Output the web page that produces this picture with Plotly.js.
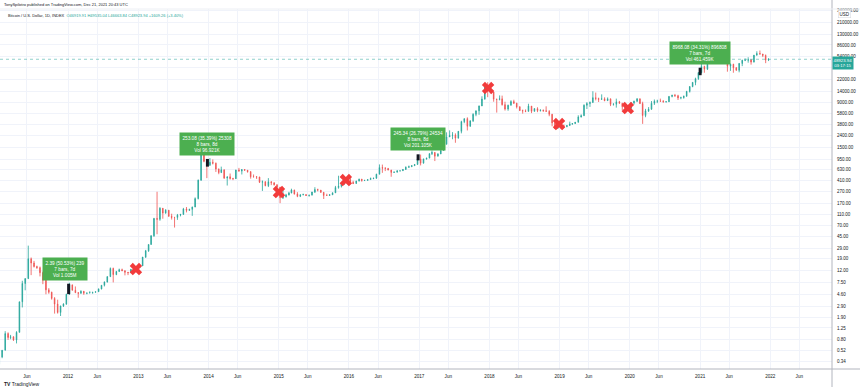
<!DOCTYPE html>
<html>
<head>
<meta charset="utf-8">
<script src="https://cdn.plot.ly/plotly-3.0.1.min.js"></script>
<style>html,body{margin:0;padding:0;background:#fff;}#chart{width:860px;height:391px;}</style>
</head>
<body>
<div id="chart"></div>
<script>
// ---- Data: half-month OHLC (BTC/USD INDEX), two candles per month ----
const years = [2011,2012,2013,2014,2015,2016,2017,2018,2019,2020,2021];
const halfDays = ['08','23'];
const openP = [
 .30,.40,.52,1.00,.86,.88,.78,1.05,3.5,7.2,8.7,19,16.1,14,13.4,11,8.2,5.6,5.1,4.0,3.2,2.3,2.97,3.2,
 4.7,6.8,5.5,5.0,4.9,5.3,4.9,4.95,5.0,5.1,5.2,5.8,6.7,7.6,9.4,13.0,10.2,11.5,12.4,11.9,11.2,11.0,12.6,13.4,
 13.5,14.4,20.4,26,33.4,47,93,90,139,115,129,101,97,97,106,109,135,128,133,146,203,420,1129,880,
 754,850,818,650,565,630,457,480,447,445,627,600,638,620,585,480,478,475,387,395,338,395,378,350,
 320,210,218,235,254,285,244,222,236,238,230,233,263,290,284,260,230,230,236,255,314,330,378,455,
 430,385,369,405,437,415,416,430,448,455,530,690,673,665,624,570,575,607,609,640,700,712,742,778,
 963,820,970,1000,1190,1250,1080,1180,1350,1720,2300,2450,2480,2200,2870,4200,4730,3500,4340,5600,6450,7800,10200,17700,
 13900,13500,10200,10100,10300,8200,6900,8000,9250,8700,7500,6500,6400,6300,7750,6300,7000,6500,6620,6450,6300,5600,4000,3250,
 3700,3600,3450,3600,3820,3900,4100,5050,5300,8000,8550,8900,10800,10400,10100,10300,9600,10300,8300,8350,9150,8650,7550,7100,
 7200,8800,9350,10350,8550,5350,6420,6850,8650,9400,9450,9400,9150,9200,11350,11850,11650,10700,10780,11450,13800,16700,19700,22800,
 28950,36800,33100,48700,45200,56000,58800,63000,57700,46400,37300,40100,35000,31800,41500,47000,47100,48100,43800,57400,61300,60100,57000,47600];
const highP = [
 .42,.52,1.10,1.05,.95,.90,1.10,3.5,8.0,8.9,31.9,20,17.5,14.5,14,11.5,8.5,6.0,5.2,4.2,3.8,3.0,3.3,4.8,
 7.4,6.9,6.4,5.1,5.5,5.3,5.0,5.3,5.1,5.2,5.9,6.7,7.8,9.6,13.5,13.4,11.8,12.9,12.9,12.0,11.3,12.6,13.6,13.8,
 14.7,20.4,27,33.4,48,95,266,145,140,134,129,112,98,111,111,141,146,136,148,213,430,1242,1165,890,
 1000,950,840,665,715,640,480,545,460,630,680,640,650,625,600,525,490,480,415,400,455,400,385,355,
 320,300,245,265,300,288,262,240,247,240,235,265,318,300,285,262,246,242,258,335,500,380,470,465,
 465,410,410,445,440,425,430,465,460,540,780,775,700,680,630,590,615,612,645,720,745,755,785,975,
 1150,975,1010,1210,1350,1255,1210,1350,1800,2760,2980,2780,2650,2900,4350,4750,4980,4400,5850,6470,7900,11400,17900,19800,
 17200,13500,10300,11800,11700,9200,8200,9750,9950,8800,7750,6750,6800,8500,7750,7150,7400,6800,6750,7680,6600,5700,4300,4200,
 4100,3750,3650,4200,3950,4150,5400,5600,8300,9050,9300,13900,13200,10800,12300,10950,10900,10400,8650,10400,9500,8800,7750,7500,
 8900,9600,10500,10350,9200,6950,7450,9450,10050,9950,10400,9800,9450,11450,12100,12500,12100,11200,11700,14100,16900,19850,23700,29300,
 41950,38000,49700,58350,61800,60000,64850,63500,59500,46600,41300,41000,35900,42300,48000,50500,52900,48500,58000,67000,69000,60500,59000,51000];
const lowP = [
 .29,.38,.52,.78,.80,.75,.68,1.05,2.8,5.5,8.7,10,13.5,12.8,9.5,7.0,4.7,4.8,3.8,2.2,2.2,2.0,2.85,3.1,
 4.6,5.5,5.0,4.1,4.8,4.6,4.7,4.9,4.8,5.0,5.2,5.7,6.4,7.5,9.4,7.5,10.0,11.4,11.7,9.9,10.0,11.0,12.6,13.1,
 13.2,14.3,19.6,25,33.2,45,50,85,92,112,100,89,65,88,101,108,118,125,103,145,197,410,850,455,
 740,780,580,530,560,440,340,430,420,440,590,525,610,565,445,470,440,375,275,330,320,345,340,310,
 170,200,212,230,250,238,215,216,232,225,219,230,253,270,255,200,226,227,236,255,300,315,350,415,
 355,360,365,400,395,405,412,428,436,440,530,560,600,620,480,560,570,590,603,630,680,710,740,775,
 750,810,940,995,1130,890,1070,1170,1350,1720,2300,2100,1830,2150,2650,3950,2970,3450,4150,5200,5500,7750,10000,11000,
 12800,9200,6000,9700,7900,6500,6450,7950,8400,7050,6400,5750,6100,6250,5880,6250,6100,6250,6200,6250,5200,3500,3150,3200,
 3500,3350,3380,3580,3700,3850,4080,4950,5300,6900,7500,8900,9700,9100,10000,9400,9600,7750,7900,7300,8600,6500,7050,6450,
 6850,8250,9150,8450,3850,5000,6150,6700,8100,8700,9250,8900,8950,9100,10950,11150,9850,10150,10400,11200,13200,16300,17600,21800,
 28150,28800,32300,43000,44950,50300,56500,47000,46000,30000,31000,28800,31200,29300,37300,45500,42800,39600,43300,57000,59000,53300,42000,45600];
const closeP = [
 .40,.52,1.00,.86,.88,.78,1.05,3.5,7.2,8.7,19,16.1,14,13.4,11,8.2,5.6,5.1,4.0,3.2,2.3,2.97,3.2,4.7,
 6.8,5.5,5.0,4.9,5.3,4.9,4.95,5.0,5.1,5.2,5.8,6.7,7.6,9.4,13.0,10.2,11.5,12.4,11.9,11.2,11.0,12.6,13.4,13.5,
 14.4,20.4,26,33.4,47,93,90,139,115,129,101,97,97,106,109,135,128,133,146,203,420,1129,880,754,
 850,818,650,565,630,457,480,447,445,627,600,638,620,585,480,478,475,387,395,338,395,378,350,320,
 210,218,235,254,285,244,222,236,238,230,233,263,290,284,260,230,230,236,255,314,330,378,455,430,
 385,369,405,437,415,416,430,448,455,530,690,673,665,624,570,575,607,609,640,700,712,742,778,963,
 820,970,1000,1190,1250,1080,1180,1350,1720,2300,2450,2480,2200,2870,4200,4730,3500,4340,5600,6450,7800,10200,17700,13900,
 13500,10200,10100,10300,8200,6900,8000,9250,8700,7500,6500,6400,6300,7750,6300,7000,6500,6620,6450,6300,5600,4000,3250,3700,
 3600,3450,3600,3820,3900,4100,5050,5300,8000,8550,8900,10800,10400,10100,10300,9600,10300,8300,8350,9150,8650,7550,7100,7200,
 8800,9350,10350,8550,5350,6420,6850,8650,9400,9450,9400,9150,9200,11350,11850,11650,10700,10780,11450,13800,16700,19700,22800,28950,
 36800,33100,48700,45200,56000,58800,63000,57700,46400,37300,40100,35000,31800,41500,47000,47100,48100,43800,57400,61300,60100,57000,47600,48924];

// December markers (red crosses)
const markDates  = ['2012-12-19','2015-01-02','2015-12-16','2017-12-25','2018-12-29','2019-12-22'];
const markPrices = [12.7, 263, 422, 15800, 3825, 7180];

// Measured moves (black bars + green labels)
const moveDates = ['2012-01-04','2013-12-26','2016-12-26','2021-01-01'];
const moveLow   = [4.73, 715, 916, 26138];
const moveHigh  = [7.12, 968, 1161, 35106];
const moveText  = [
 '2.39 (50.53%) 239<br>7 bars, 7d<br>Vol 1.005M',
 '253.08 (35.39%) 25308<br>8 bars, 8d<br>Vol 96.921K',
 '245.34 (26.79%) 24534<br>8 bars, 8d<br>Vol 201.105K',
 '8968.08 (34.31%) 896808<br>7 bars, 7d<br>Vol 461.459K'];

const lastPrice = 48923.94;
const lastTime = '03:17:15';

// Axis ticks (35000 label sits under the last-price tag)
const yTickVals = [0.34,0.52,0.80,1.25,1.90,2.90,4.60,7.50,12,19,29,45,70,110,170,270,410,630,950,1500,2400,3800,5800,9000,14000,22000,35000,54000,86000,130000,210000,340000];
const yTickText = yTickVals.map(v => v === 35000 ? '' : v.toFixed(2));
const xTickVals = [];
const xTickText = [];
for (let y = 2011; y <= 2022; y++) {
  if (y > 2011) { xTickVals.push(y + '-01-01'); xTickText.push(String(y)); }
  xTickVals.push(y + '-06-01'); xTickText.push('Jun');
}

// candle dates (two per month)
const dates = [];
years.forEach(y => { for (let m = 1; m <= 12; m++) halfDays.forEach(d => dates.push(y + '-' + String(m).padStart(2,'0') + '-' + d)); });

const xRange = ['2011-01-12', '2022-11-18'];
const UP = '#26a69a', DOWN = '#ef5350', GRID = '#f0f3fa', TXT = '#131722';
const FONT = 'Liberation Sans, Arial, sans-serif';

const traces = [
  {
    type: 'candlestick', x: dates, open: openP, high: highP, low: lowP, close: closeP,
    increasing: {line: {color: UP, width: 0.8}, fillcolor: UP},
    decreasing: {line: {color: DOWN, width: 0.8}, fillcolor: DOWN},
    whiskerwidth: 0, hoverinfo: 'skip', showlegend: false
  },
  {
    type: 'scatter', mode: 'lines', x: xRange, y: [lastPrice, lastPrice],
    line: {color: 'rgba(38,166,154,0.5)', width: 1, dash: 'dot'}, hoverinfo: 'skip', showlegend: false
  },
  {
    type: 'scatter', mode: 'markers', x: markDates, y: markPrices,
    marker: {symbol: 'x', size: 11, color: '#f23b3b', line: {width: 0}}, hoverinfo: 'skip', showlegend: false
  }
];
// black measured bars
const bx = [], by = [];
moveDates.forEach((d, i) => { bx.push(d, d, null); by.push(moveLow[i], moveHigh[i], null); });
traces.push({type: 'scatter', mode: 'lines', x: bx, y: by, line: {color: TXT, width: 3}, hoverinfo: 'skip', showlegend: false});

const annotations = moveDates.map((d, i) => ({
  x: d, y: Math.log10(moveHigh[i]), xref: 'x', yref: 'y',
  text: moveText[i], showarrow: false, yanchor: 'bottom', xanchor: 'center',
  yshift: 3, xshift: i === 0 ? -4 : 0,
  bgcolor: '#4caf50', borderpad: 2.5,
  font: {family: FONT, size: 4.7, color: '#ffffff'}, align: 'center'
}));
annotations.push(
  {xref: 'paper', yref: 'y', x: 1, y: Math.log10(lastPrice), xanchor: 'left', yanchor: 'middle', xshift: 0, yshift: -3.5,
   text: lastPrice.toFixed(2) + '<br>' + lastTime, showarrow: false, bgcolor: UP, borderpad: 0.6,
   font: {family: FONT, size: 4.3, color: '#ffffff'}, align: 'center'},
  {xref: 'paper', yref: 'paper', x: 1, y: 0.986, xanchor: 'left', yanchor: 'middle', xshift: 6,
   text: 'USD', showarrow: false, bgcolor: '#ffffff', bordercolor: '#d1d4dc', borderwidth: 0.5, borderpad: 1,
   font: {family: FONT, size: 4.5, color: TXT}},
  {xref: 'paper', yref: 'paper', x: 0, y: 1.013, xanchor: 'left', yanchor: 'middle', xshift: 2,
   text: 'TonySpilotro published on TradingView.com, Dec 21, 2021 20:43 UTC', showarrow: false,
   font: {family: FONT, size: 4.0, color: TXT}},
  {xref: 'paper', yref: 'paper', x: 0, y: 0.983, xanchor: 'left', yanchor: 'middle', xshift: 6,
   text: 'Bitcoin / U.S. Dollar, 1D, INDEX  <span style="color:#26a69a">O46919.91 H49535.04 L46663.84 C48923.94 +1609.26 (+3.40%)</span>',
   showarrow: false, font: {family: FONT, size: 4.0, color: TXT}},
  {xref: 'paper', yref: 'paper', x: 0, y: -0.042, xanchor: 'left', yanchor: 'middle', xshift: 2,
   text: '<b>TV</b> TradingView', showarrow: false, font: {family: FONT, size: 5, color: TXT}}
);

const layout = {
  width: 860, height: 391,
  margin: {l: 0, r: 28, t: 9, b: 22, pad: 0},
  paper_bgcolor: '#ffffff', plot_bgcolor: '#ffffff',
  showlegend: false, boxgap: 0.65,
  font: {family: FONT, color: TXT},
  xaxis: {
    type: 'date', range: xRange, rangeslider: {visible: false},
    tickvals: xTickVals, ticktext: xTickText, tickangle: 0,
    showgrid: true, gridcolor: GRID, gridwidth: 1, zeroline: false, showline: false,
    ticks: 'outside', ticklen: 2, tickcolor: 'rgba(0,0,0,0)',
    tickfont: {family: FONT, size: 4.6, color: TXT}
  },
  yaxis: {
    type: 'log', side: 'right', range: [-0.605, 5.549],
    tickvals: yTickVals, ticktext: yTickText,
    showgrid: true, gridcolor: GRID, gridwidth: 1, zeroline: false, showline: false,
    ticks: 'outside', ticklen: 3, tickcolor: 'rgba(0,0,0,0)',
    tickfont: {family: FONT, size: 4.5, color: TXT}
  },
  shapes: [
    {type: 'line', xref: 'paper', yref: 'paper', x0: 1, x1: 1, y0: -0.05, y1: 1.025, line: {color: '#b2b5be', width: 1}},
    {type: 'line', xref: 'paper', yref: 'paper', x0: 0, x1: 1.034, y0: 0, y1: 0, line: {color: '#b2b5be', width: 1}},
    {type: 'line', xref: 'paper', yref: 'paper', x0: 0, x1: 1.034, y0: 1, y1: 1, line: {color: '#eceff4', width: 1}}
  ],
  annotations: annotations
};

Plotly.newPlot('chart', traces, layout, {staticPlot: true, displayModeBar: false});
</script>
</body>
</html>
